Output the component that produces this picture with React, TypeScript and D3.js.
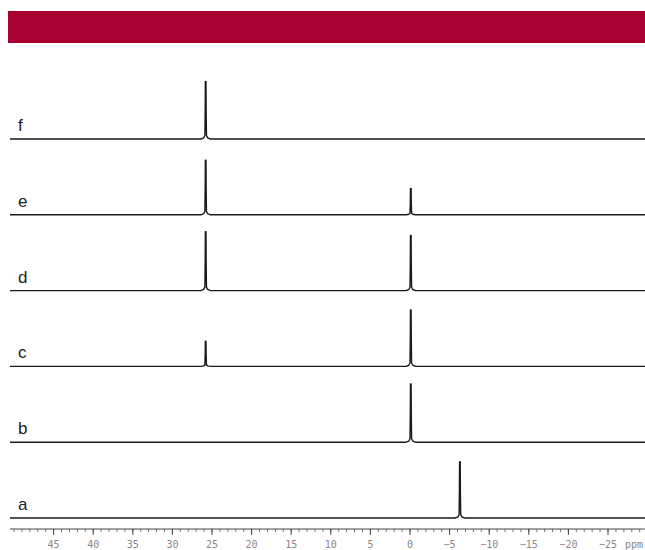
import React from "react";
import * as d3 from "d3";

const rows = ["f", "e", "d", "c", "b", "a"];
// peak positions (ppm) and relative intensities per trace
const peaksA = [{ ppm: -6.3, h: 0.94 }];
const peaksB = [{ ppm: -0.1, h: 0.97 }];
const peaksC = [{ ppm: 25.8, h: 0.42 }, { ppm: -0.1, h: 0.94 }];
const peaksD = [{ ppm: 25.8, h: 0.98 }, { ppm: -0.1, h: 0.92 }];
const peaksE = [{ ppm: 25.8, h: 0.91 }, { ppm: -0.1, h: 0.44 }];
const peaksF = [{ ppm: 25.8, h: 0.96 }];
const peakMap: Record<string, { ppm: number; h: number }[]> = {
  a: peaksA, b: peaksB, c: peaksC, d: peaksD, e: peaksE, f: peaksF,
};
const majorTicks = [45, 40, 35, 30, 25, 20, 15, 10, 5, 0, -5, -10, -15, -20, -25];
const minorTicks = d3.range(50, -30, -1);
// peak line shape template: [offset ppm, fraction of height]
const shape = [
  [0.6, 0], [0.25, 0.02], [0.1, 0.06], [0.06, 0.5], [0.04, 1], [-0.04, 1], [-0.06, 0.5], [-0.1, 0.06], [-0.25, 0.02], [-0.6, 0],
];

export default function App() {
  const W = 645, H = 550;
  const x = d3.scaleLinear().domain([0, -5]).range([410, 449.6]);
  const rowY = d3.scalePoint<string>().domain(rows).range([139, 518]);
  const left = 10, right = 645;
  const ppmLeft = x.invert(left), ppmRight = x.invert(right);
  const line = d3.line<[number, number]>().x((d) => x(d[0])).y((d) => d[1]);

  const tracePath = (r: string) => {
    const base = rowY(r)!;
    const y = d3.scaleLinear().domain([0, 1]).range([base, base - 60]);
    const pk = [...peakMap[r]].sort((a, b) => b.ppm - a.ppm);
    const pts: [number, number][] = [[ppmLeft, y(0)]];
    pk.forEach((p) => {
      shape.forEach(([o, f]) => pts.push([p.ppm + o, y(p.h * f)]));
    });
    pts.push([ppmRight, y(0)]);
    return line(pts) || "";
  };

  const axisY = 529;
  return (
    <svg width={W} height={H} style={{ position: "absolute", left: 0, top: 0 }}>
      <rect x={0} y={0} width={W} height={H} fill="#fff" />
      <rect x={8} y={11} width={637} height={32} fill="#A80030" />
      {rows.map((r) => (
        <g key={r}>
          <path d={tracePath(r)} fill="#1a1a1a" fillOpacity={0} stroke="#1a1a1a" strokeWidth={1.4} strokeLinejoin="round" />
          <text x={18} y={rowY(r)! - 8} fontFamily="Liberation Sans, Arial, sans-serif" fontSize={17} fill="#222">
            {r}
          </text>
        </g>
      ))}
      <line x1={left} x2={right} y1={axisY} y2={axisY} stroke="#444" strokeWidth={1} />
      {minorTicks.map((t) => (
        <line key={"m" + t} x1={x(t)} x2={x(t)} y1={axisY} y2={axisY + 3} stroke="#555" strokeWidth={0.8} />
      ))}
      {majorTicks.map((t) => (
        <g key={"M" + t}>
          <line x1={x(t)} x2={x(t)} y1={axisY} y2={axisY + 6} stroke="#444" strokeWidth={1} />
          <text x={x(t)} y={548} textAnchor="middle" fontFamily="DejaVu Sans Mono, monospace" fontSize={10} fill="#888">
            {t < 0 ? "\u2212" + Math.abs(t) : String(t)}
          </text>
        </g>
      ))}
      <text x={625} y={548} fontFamily="DejaVu Sans Mono, monospace" fontSize={10} fill="#888">ppm</text>
    </svg>
  );
}
